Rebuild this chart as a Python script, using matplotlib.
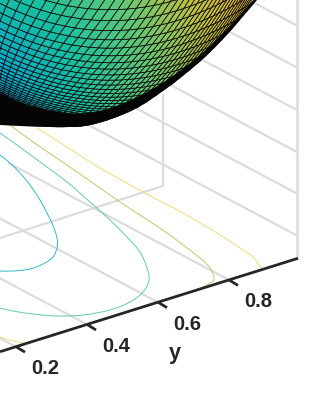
import numpy as np
import matplotlib
matplotlib.use("Agg")
import matplotlib.pyplot as plt
from matplotlib.collections import PolyCollection
from matplotlib.colors import LinearSegmentedColormap
from matplotlib.path import Path
from matplotlib.patches import PathPatch

plt.rcParams['font.family'] = ['Liberation Sans', 'DejaVu Sans']

# --- values (scene coordinates of the projected 3D view) ---
y_ticks = [0.2, 0.4, 0.6, 0.8]
y_tick_labels = ['0.2', '0.4', '0.6', '0.8']
y_tick_x = [16, 87, 158, 229]
axis_line_x = [0, 298]
axis_line_y = [351.7, 258.3]
wall_line_right_y = [25, 67, 109.5, 151.5, 193, 235]
back_edge_x = [0, 163, 163]
back_edge_y = [238, 186, 95]
right_edge_x = [297, 297]
right_edge_y = [0, 258]

c1_x = [0, 10, 20, 30, 40, 48, 54, 57, 57.5, 57, 53, 43, 30, 13, 0]
c1_y = [155, 163, 173, 185, 200, 215, 228, 238, 243, 248, 257, 264, 269, 271, 271]
c2_x = [0, 17, 40, 67, 90, 110, 127, 140, 147, 149, 143, 130, 110, 83, 57, 33, 13, 0]
c2_y = [133, 145, 162, 182, 202, 220, 237, 252, 268, 280, 292, 302, 310, 315, 316, 314, 311, 308]
c3_x = [10, 33, 67, 100, 120, 143, 167, 183, 200, 210, 214, 212, 203]
c3_y = [125, 142, 165, 188, 202, 217, 233, 245, 258, 268, 277, 282, 287]
c3b_x = [0, 13, 28, 42]
c3b_y = [337, 341, 343, 338]
c4_x = [37, 67, 100, 143, 183, 217, 240, 253, 261]
c4_y = [128, 147, 168, 192, 213, 233, 248, 257, 268]

limb_x = [-6, 0, 50, 90, 133, 167, 190, 205, 223, 240, 257, 263]
limb_y = [124, 125, 127, 125, 110, 88, 70, 57, 39, 20, 0, -8]
band_top_x = [-6, 0, 25, 67, 100, 133, 167, 200, 223, 240, 257, 263]
band_top_y = [89, 92, 104, 113, 111, 99, 80, 55, 33, 15, -4, -11]

surface_stops = ['#352a87', '#0f5cdd', '#1085dc', '#08a8c8', '#18c0a0',
                 '#60c878', '#c0c040', '#f0b830', '#f9e020']
surface_cmap = LinearSegmentedColormap.from_list('surface_cmap', surface_stops)

fig = plt.figure(figsize=(3.15, 4.2), dpi=100)
ax = fig.add_axes([0, 0, 1, 1])
ax.set_xlim(0, 315)
ax.set_ylim(420, 0)
ax.axis('off')

GRID = '#dcdcdc'
slope = 0.53
for y0 in wall_line_right_y:
    ax.plot([296, 296 - 260], [y0, y0 - 260 * slope], color=GRID, lw=1.6, zorder=1)
ay = lambda x: np.interp(x, axis_line_x, axis_line_y)
for tx in y_tick_x:
    ty = ay(tx)
    ax.plot([tx, tx - 220], [ty, ty - 220 * slope], color=GRID, lw=1.6, zorder=1)
ax.plot(back_edge_x, back_edge_y, color=GRID, lw=1.6, zorder=1)
ax.plot(right_edge_x, right_edge_y, color=GRID, lw=1.8, zorder=1)


def curve_segments(xs, ys):
    """Catmull-Rom Bezier pieces through the read points (vertices without the start)."""
    p = np.column_stack([xs, ys]).astype(float)
    verts = []
    for i in range(len(p) - 1):
        p0 = p[max(i - 1, 0)]
        p3 = p[min(i + 2, len(p) - 1)]
        verts += [p[i] + (p[i + 1] - p0) / 6, p[i + 1] - (p3 - p[i]) / 6, p[i + 1]]
    return verts


def smooth_line(xs, ys, color):
    seg = curve_segments(xs, ys)
    verts = [(xs[0], ys[0])] + seg
    codes = [Path.MOVETO] + [Path.CURVE4] * len(seg)
    ax.add_patch(PathPatch(Path(verts, codes), fill=False, edgecolor=color, lw=0.7, zorder=2))


smooth_line(c1_x, c1_y, '#35b8c4')
smooth_line(c2_x, c2_y, '#63c9ad')
smooth_line(c3_x, c3_y, '#bcc96a')
smooth_line(c3b_x, c3b_y, '#e6e080')
smooth_line(c4_x, c4_y, '#f2d97c')

ax.plot(axis_line_x, axis_line_y, color='#262626', lw=2.0, zorder=5, solid_capstyle='butt')
for tx, lab in zip(y_tick_x, y_tick_labels):
    ty = ay(tx)
    ax.plot([tx, tx + 9], [ty, ty + 5.5], color='#262626', lw=2.0, zorder=5, solid_capstyle='butt')
    ax.text(tx + 29, ty + 22, lab, fontsize=14.5, fontweight='bold', color='#262626',
            ha='center', va='center', zorder=6)
ax.text(175, 354, 'y', fontsize=15.5, fontweight='bold', color='#262626',
        ha='center', va='center', zorder=6)


# surface mesh (modelled): two curve families, crowding towards the silhouette
def steps(fn, limit, end, start=0.5):
    d = start
    out = [end - d]
    while end - d > limit:
        d += fn(d)
        out.append(end - d)
    return np.array(out)


P_lines = steps(lambda d: 2.0 + 0.055 * d, -40, 262)
Q_lines = steps(lambda d: 0.6 if d < 8 else 0.095 * d, -12, 136)
P, Q = np.meshgrid(P_lines, Q_lines)
lean = lambda y: 0.65 * y + 0.00175 * y * np.abs(y)
smile = lambda x: 0.00225 * (x - 110) ** 2
SX = P - lean(Q)
SY = Q - smile(SX)
SX = P - lean(SY)
SY = Q - smile(SX)
polys = np.stack([
    np.stack([SX[:-1, :-1], SY[:-1, :-1]], -1),
    np.stack([SX[:-1, 1:], SY[:-1, 1:]], -1),
    np.stack([SX[1:, 1:], SY[1:, 1:]], -1),
    np.stack([SX[1:, :-1], SY[1:, :-1]], -1),
], axis=2).reshape(-1, 4, 2)
mid = polys.mean(axis=1)
dist = np.hypot(mid[:, 0] + 40, mid[:, 1] - 100)
t = np.clip(0.27 + 0.0019 * dist, 0, 1)
pc = PolyCollection(polys, array=t, cmap=surface_cmap, clim=(0, 1),
                    edgecolors='#080808', linewidths=0.55, zorder=3)
ax.add_collection(pc)

# clip the mesh to the silhouette, and draw the black band where the mesh lines pile up
top_seg = curve_segments(limb_x[::-1], limb_y[::-1])
clip_verts = [(limb_x[-1], limb_y[-1])] + top_seg + [(-6, -20), (263, -20), (limb_x[-1], limb_y[-1])]
clip_codes = [Path.MOVETO] + [Path.CURVE4] * len(top_seg) + [Path.LINETO] * 2 + [Path.CLOSEPOLY]
pc.set_clip_path(PathPatch(Path(clip_verts, clip_codes), transform=ax.transData))

seg_a = curve_segments(band_top_x, band_top_y)
seg_b = curve_segments(limb_x[::-1], limb_y[::-1])
verts = [(band_top_x[0], band_top_y[0])] + seg_a + [(limb_x[-1], limb_y[-1])] + seg_b + [(band_top_x[0], band_top_y[0])]
codes = [Path.MOVETO] + [Path.CURVE4] * len(seg_a) + [Path.LINETO] + [Path.CURVE4] * len(seg_b) + [Path.CLOSEPOLY]
ax.add_patch(PathPatch(Path(verts, codes), facecolor='#050505', edgecolor='none', zorder=4))

fig.savefig('out.png', dpi=100)
